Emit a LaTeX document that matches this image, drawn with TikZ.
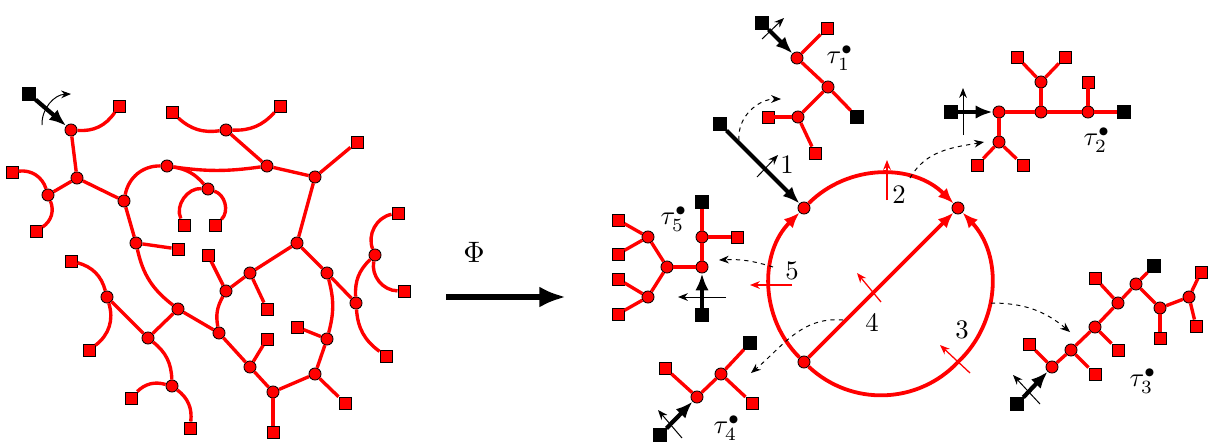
\documentclass[tikz,border=0pt]{standalone}
\usetikzlibrary{arrows.meta}
\begin{document}
\begin{tikzpicture}[x=0.025cm,y=0.025cm]
        \tikzstyle{vert}=[circle,draw=black,fill=red,line width=0.6pt,inner sep=0pt,minimum size=8.6pt]
        \tikzstyle{leaf}=[rectangle,draw=black,fill=red,line width=0.6pt,inner sep=0pt,minimum size=8.6pt]
        \tikzstyle{root}=[rectangle,draw=black,fill=black,inner sep=0pt,minimum size=9pt]
        \tikzstyle{edge}=[red,line width=2.4pt]
        \tikzstyle{loopedge}=[red,line width=2.7pt,-{Latex[length=11pt,width=9pt]}]
        \tikzstyle{rootarrow}=[black,line width=3pt,-{Latex[length=12pt,width=9.5pt]}]
        \tikzstyle{orient}=[black,line width=0.7pt,-{Stealth[length=7pt,width=5.5pt]}]
        \tikzstyle{redorient}=[red,line width=0.9pt,-{Stealth[length=7pt,width=5.5pt]}]
        \tikzstyle{hop}=[black,dashed,line width=0.7pt,-{Stealth[length=7pt,width=5.5pt]}]
        \tikzstyle{lbl}=[inner sep=0pt,scale=1.9]

        \useasboundingbox (0,-443) rectangle (1220,0);

        \node (a0)[root] at (29,-94) {};
        \node (a)[vert] at (71,-130) {};
        \node (b)[vert] at (77,-178) {};
        \node (c)[vert] at (48,-195) {};
        \node (d)[vert] at (124,-201) {};
        \node (e)[vert] at (167,-166) {};
        \node (f)[vert] at (208,-189) {};
        \node (g)[vert] at (226,-130) {};
        \node (h)[vert] at (267,-166) {};
        \node (i)[vert] at (315,-177) {};
        \node (j)[vert] at (297,-243) {};
        \node (k)[vert] at (136,-243) {};
        \node (l)[vert] at (107,-297) {};
        \node (m)[vert] at (148,-338) {};
        \node (n)[vert] at (178,-309) {};
        \node (o)[vert] at (172,-386) {};
        \node (p)[vert] at (250,-273) {};
        \node (q)[vert] at (226,-291) {};
        \node (r)[vert] at (219,-333) {};
        \node (s)[vert] at (250,-367) {};
        \node (t)[vert] at (273,-392) {};
        \node (u)[vert] at (315,-374) {};
        \node (v)[vert] at (327,-339) {};
        \node (w)[vert] at (327,-273) {};
        \node (x)[vert] at (356,-303) {};
        \node (y)[vert] at (375,-255) {};

        \node (a1)[leaf] at (119,-106) {};
        \node (c1)[leaf] at (12,-172) {};
        \node (c2)[leaf] at (36,-231) {};
        \node (f1)[leaf] at (184,-225) {};
        \node (f2)[leaf] at (215,-225) {};
        \node (g1)[leaf] at (172,-112) {};
        \node (g2)[leaf] at (280,-106) {};
        \node (i1)[leaf] at (357,-142) {};
        \node (k1)[leaf] at (178,-249) {};
        \node (l1)[leaf] at (71,-261) {};
        \node (l2)[leaf] at (89,-350) {};
        \node (o1)[leaf] at (131,-398) {};
        \node (o2)[leaf] at (190,-428) {};
        \node (p1)[leaf] at (267,-309) {};
        \node (q1)[leaf] at (208,-255) {};
        \node (s1)[leaf] at (267,-339) {};
        \node (t1)[leaf] at (273,-432) {};
        \node (u1)[leaf] at (345,-403) {};
        \node (v1)[leaf] at (297,-327) {};
        \node (x1)[leaf] at (386,-356) {};
        \node (y1)[leaf] at (398,-213) {};
        \node (y2)[leaf] at (404,-291) {};

        \draw[rootarrow] (a0) -- (a);
        \draw[edge] (a) to[bend right=30] (a1);
        \draw[edge] (a) -- (b);
        \draw[edge] (b) -- (c);
        \draw[edge] (c) to[bend right=40] (c1);
        \draw[edge] (c) to[bend left=40] (c2);
        \draw[edge] (b) -- (d);
        \draw[edge] (d) to[bend left=40] (e);
        \draw[edge] (e) to[bend right=8] (h);
        \draw[edge] (e) to[bend left=20] (f);
        \draw[edge] (f) to[bend right=60] (f1);
        \draw[edge] (f) to[bend left=60] (f2);
        \draw[edge] (g) to[bend left=25] (g1);
        \draw[edge] (g) to[bend right=25] (g2);
        \draw[edge] (g) -- (h);
        \draw[edge] (h) -- (i);
        \draw[edge] (i) -- (i1);
        \draw[edge] (i) -- (j);
        \draw[edge] (d) -- (k);
        \draw[edge] (k) -- (k1);
        \draw[edge] (k) to[bend right=20] (n);
        \draw[edge] (l) to[bend right=30] (l1);
        \draw[edge] (l) to[bend left=35] (l2);
        \draw[edge] (l) -- (m);
        \draw[edge] (m) -- (n);
        \draw[edge] (m) to[bend left=25] (o);
        \draw[edge] (o) to[bend right=30] (o1);
        \draw[edge] (o) to[bend left=30] (o2);
        \draw[edge] (n) -- (r);
        \draw[edge] (r) to[bend left=20] (q);
        \draw[edge] (q) -- (q1);
        \draw[edge] (q) -- (p);
        \draw[edge] (p) -- (p1);
        \draw[edge] (p) -- (j);
        \draw[edge] (r) -- (s);
        \draw[edge] (s) -- (s1);
        \draw[edge] (s) -- (t);
        \draw[edge] (t) -- (t1);
        \draw[edge] (t) -- (u);
        \draw[edge] (u) -- (u1);
        \draw[edge] (u) -- (v);
        \draw[edge] (v) -- (v1);
        \draw[edge] (v) to[bend right=15] (w);
        \draw[edge] (j) -- (w);
        \draw[edge] (w) -- (x);
        \draw[edge] (x) to[bend left=25] (y);
        \draw[edge] (y) to[bend left=50] (y1);
        \draw[edge] (y) to[bend right=50] (y2);
        \draw[edge] (x) to[bend right=25] (x1);

        \coordinate (r0a) at (42,-125);
        \coordinate (r0b) at (71,-94);
        \draw[orient] (r0a) to[bend left=45] (r0b);

        \coordinate (phia) at (446,-297);
        \coordinate (phib) at (566,-297);
        \draw[black,line width=4.5pt,-{Latex[length=19pt,width=15pt]}] (phia) -- (phib);
        \node (phi)[inner sep=0pt,scale=2.1] at (474,-252) {$\Phi$};

        \node (e1)[root] at (720,-124) {};
        \node (ul)[vert] at (804,-208) {};
        \node (ur)[vert] at (958,-208) {};
        \node (ll)[vert] at (804,-362) {};
        \coordinate (lr) at (958,-362);

        \draw[rootarrow] (e1) -- (ul);
        \draw[loopedge] (ll) to[bend left=45] (ul);
        \draw[loopedge] (ul) to[bend left=45] (ur);
        \draw[loopedge] (ll) to[bend right=45] (lr) to[bend right=45] (ur);
        \draw[loopedge] (ll) -- (ur);

        \coordinate (m1a) at (757,-177);
        \coordinate (m1b) at (778,-155);
        \coordinate (m2a) at (887,-200);
        \coordinate (m2b) at (887,-160);
        \coordinate (m3a) at (970,-373);
        \coordinate (m3b) at (940,-345);
        \coordinate (m4a) at (881,-302);
        \coordinate (m4b) at (857,-273);
        \coordinate (m5a) at (792,-285);
        \coordinate (m5b) at (750,-285);
        \draw[orient] (m1a) -- (m1b);
        \draw[redorient] (m2a) -- (m2b);
        \draw[redorient] (m3a) -- (m3b);
        \draw[redorient] (m4a) -- (m4b);
        \draw[redorient] (m5a) -- (m5b);
        \node (n1)[lbl] at (787,-165) {1};
        \node (n2)[lbl] at (899,-195) {2};
        \node (n3)[lbl] at (962,-330) {3};
        \node (n4)[lbl] at (872,-322) {4};
        \node (n5)[lbl] at (792,-271) {5};

        \node (ta0)[root] at (762,-23) {};
        \node (ta1)[vert] at (797,-58) {};
        \node (ta2)[leaf] at (827,-28) {};
        \node (ta3)[vert] at (828,-87) {};
        \node (ta4)[root] at (857,-117) {};
        \node (ta5)[vert] at (798,-117) {};
        \node (ta6)[leaf] at (768,-117) {};
        \node (ta7)[leaf] at (815,-153) {};
        \draw[rootarrow] (ta0) -- (ta1);
        \draw[edge] (ta1) -- (ta2);
        \draw[edge] (ta1) -- (ta3);
        \draw[edge] (ta3) -- (ta4);
        \draw[edge] (ta3) -- (ta5);
        \draw[edge] (ta5) -- (ta6);
        \draw[edge] (ta5) -- (ta7);
        \coordinate (ra1) at (762,-39);
        \coordinate (ra2) at (784,-18);
        \draw[orient] (ra1) -- (ra2);
        \node (la)[lbl] at (840,-58) {$\tau_1^\bullet$};

        \node (tb0)[root] at (951,-112) {};
        \node (tb1)[vert] at (999,-112) {};
        \node (tb2)[vert] at (999,-142) {};
        \node (tb3)[leaf] at (977,-165) {};
        \node (tb4)[leaf] at (1023,-165) {};
        \node (tb5)[vert] at (1041,-112) {};
        \node (tb6)[vert] at (1041,-82) {};
        \node (tb7)[leaf] at (1017,-57) {};
        \node (tb8)[leaf] at (1065,-57) {};
        \node (tb9)[vert] at (1088,-112) {};
        \node (tb10)[leaf] at (1088,-82) {};
        \node (tb11)[root] at (1124,-112) {};
        \draw[rootarrow] (tb0) -- (tb1);
        \draw[edge] (tb1) -- (tb2);
        \draw[edge] (tb2) -- (tb3);
        \draw[edge] (tb2) -- (tb4);
        \draw[edge] (tb1) -- (tb5);
        \draw[edge] (tb5) -- (tb6);
        \draw[edge] (tb6) -- (tb7);
        \draw[edge] (tb6) -- (tb8);
        \draw[edge] (tb5) -- (tb9);
        \draw[edge] (tb9) -- (tb10);
        \draw[edge] (tb9) -- (tb11);
        \coordinate (rb1) at (963,-135);
        \coordinate (rb2) at (963,-88);
        \draw[orient] (rb1) -- (rb2);
        \node (lb)[lbl] at (1097,-140) {$\tau_2^\bullet$};

        \node (tc0)[root] at (1017,-404) {};
        \node (tc1)[vert] at (1052,-367) {};
        \node (tc2)[leaf] at (1029,-344) {};
        \node (tc3)[vert] at (1071,-350) {};
        \node (tc4)[leaf] at (1095,-374) {};
        \node (tc5)[vert] at (1095,-327) {};
        \node (tc6)[leaf] at (1118,-350) {};
        \node (tc7)[vert] at (1118,-303) {};
        \node (tc8)[leaf] at (1095,-278) {};
        \node (tc9)[vert] at (1136,-284) {};
        \node (tc10)[root] at (1154,-266) {};
        \node (tc11)[vert] at (1160,-308) {};
        \node (tc12)[leaf] at (1160,-338) {};
        \node (tc13)[vert] at (1189,-297) {};
        \node (tc14)[leaf] at (1201,-272) {};
        \node (tc15)[leaf] at (1196,-326) {};
        \draw[rootarrow] (tc0) -- (tc1);
        \draw[edge] (tc1) -- (tc2);
        \draw[edge] (tc1) -- (tc3);
        \draw[edge] (tc3) -- (tc4);
        \draw[edge] (tc3) -- (tc5);
        \draw[edge] (tc5) -- (tc6);
        \draw[edge] (tc5) -- (tc7);
        \draw[edge] (tc7) -- (tc8);
        \draw[edge] (tc7) -- (tc9);
        \draw[edge] (tc9) -- (tc10);
        \draw[edge] (tc9) -- (tc11);
        \draw[edge] (tc11) -- (tc12);
        \draw[edge] (tc11) -- (tc13);
        \draw[edge] (tc13) -- (tc14);
        \draw[edge] (tc13) -- (tc15);
        \coordinate (rc1) at (1040,-404);
        \coordinate (rc2) at (1013,-375);
        \draw[orient] (rc1) -- (rc2);
        \node (lc)[lbl] at (1143,-381) {$\tau_3^\bullet$};

        \node (td0)[root] at (660,-435) {};
        \node (td1)[vert] at (697,-397) {};
        \node (td2)[leaf] at (665,-368) {};
        \node (td3)[vert] at (721,-374) {};
        \node (td4)[root] at (750,-343) {};
        \node (td5)[leaf] at (752,-403) {};
        \draw[rootarrow] (td0) -- (td1);
        \draw[edge] (td1) -- (td2);
        \draw[edge] (td1) -- (td3);
        \draw[edge] (td3) -- (td4);
        \draw[edge] (td3) -- (td5);
        \coordinate (rd1) at (682,-438);
        \coordinate (rd2) at (658,-410);
        \draw[orient] (rd1) -- (rd2);
        \node (ld)[lbl] at (727,-428) {$\tau_4^\bullet$};

        \node (te0)[root] at (702,-315) {};
        \node (te1)[vert] at (702,-267) {};
        \node (te2)[vert] at (702,-237) {};
        \node (te3)[root] at (702,-202) {};
        \node (te4)[leaf] at (737,-237) {};
        \node (te5)[vert] at (667,-267) {};
        \node (te6)[vert] at (648,-237) {};
        \node (te7)[vert] at (648,-297) {};
        \node (te8)[leaf] at (618,-220) {};
        \node (te9)[leaf] at (618,-254) {};
        \node (te10)[leaf] at (618,-279) {};
        \node (te11)[leaf] at (618,-314) {};
        \draw[rootarrow] (te0) -- (te1);
        \draw[edge] (te1) -- (te2);
        \draw[edge] (te2) -- (te3);
        \draw[edge] (te2) -- (te4);
        \draw[edge] (te1) -- (te5);
        \draw[edge] (te5) -- (te6);
        \draw[edge] (te5) -- (te7);
        \draw[edge] (te6) -- (te8);
        \draw[edge] (te6) -- (te9);
        \draw[edge] (te7) -- (te10);
        \draw[edge] (te7) -- (te11);
        \coordinate (re1) at (726,-297);
        \coordinate (re2) at (678,-297);
        \draw[orient] (re1) -- (re2);
        \node (le)[lbl] at (674,-219) {$\tau_5^\bullet$};

        \coordinate (d1a) at (739,-140);
        \coordinate (d1b) at (781,-99);
        \coordinate (d2a) at (910,-178);
        \coordinate (d2b) at (984,-142);
        \coordinate (d3a) at (991,-303);
        \coordinate (d3b) at (1070,-332);
        \coordinate (d4a) at (843,-320);
        \coordinate (d4b) at (751,-373);
        \coordinate (d5a) at (773,-267);
        \coordinate (d5b) at (719,-260);
        \draw[hop] (d1a) to[out=95,in=180] (d1b);
        \draw[hop] (d2a) to[out=60,in=190] (d2b);
        \draw[hop] (d3a) to[out=0,in=140] (d3b);
        \draw[hop] (d4a) to[out=175,in=40] (d4b);
        \draw[hop] (d5a) to[bend right=10] (d5b);
\end{tikzpicture}
\end{document}
